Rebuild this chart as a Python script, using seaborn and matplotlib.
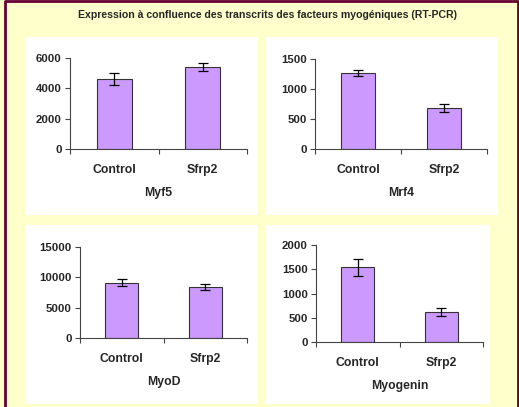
import matplotlib
matplotlib.use("Agg")
import matplotlib.pyplot as plt
from matplotlib.patches import Rectangle
from matplotlib.lines import Line2D
import seaborn as sns
import pandas as pd

sns.set_theme(style="white")
plt.rcParams['font.family'] = ['Liberation Sans', 'DejaVu Sans']
plt.rcParams['font.weight'] = 'bold'

title = "Expression à confluence des transcrits des facteurs myogéniques (RT-PCR)"
categories = ["Control", "Sfrp2"]
genes = ["Myf5", "Mrf4", "MyoD", "Myogenin"]
myf5 = [4600, 5430]
myf5_err = [390, 265]
mrf4 = [1270, 680]
mrf4_err = [48, 66]
myod = [9130, 8470]
myod_err = [630, 500]
myogenin = [1540, 620]
myogenin_err = [170, 80]
ymax = [6000, 1500, 15000, 2000]
ystep = [2000, 500, 5000, 500]

values = [myf5, mrf4, myod, myogenin]
errors = [myf5_err, mrf4_err, myod_err, myogenin_err]

W, H = 519, 407
fig = plt.figure(figsize=(W / 100, H / 100), dpi=100)
fig.patch.set_facecolor("#FFFFCC")

def px_rect(x0, y0, x1, y1):
    return [x0 / W, 1 - y1 / H, (x1 - x0) / W, (y1 - y0) / H]

# outer border: left, top, right only
fig.add_artist(Line2D([5 / W, 5 / W, 517.5 / W, 517.5 / W], [0, 1 - 0.8 / H, 1 - 0.8 / H, 0],
                      transform=fig.transFigure, color="#660033", linewidth=2.0, zorder=0))

panels = [(25, 37, 258, 215), (266, 37, 498, 215), (25, 225, 258, 404), (266, 225, 490, 404)]
for p in panels:
    x0, y0, w, h = px_rect(*p)
    fig.add_artist(Rectangle((x0, y0), w, h, transform=fig.transFigure,
                             facecolor="white", edgecolor="none", zorder=0))

axes_px = [(70, 58, 247, 149), (315, 59, 487, 149), (80, 247, 247, 338), (316, 245, 483, 342)]

fig.text(268 / W, 1 - 15 / H, title, ha="center", va="center", fontsize=7.6, fontweight="bold")

for i in range(4):
    ax = fig.add_axes(px_rect(*axes_px[i]))
    ax.set_facecolor("none")
    df = pd.DataFrame({"cat": categories, "val": values[i]})
    sns.barplot(data=df, x="cat", y="val", ax=ax, color="#CC99FF", saturation=1,
                width=0.4, edgecolor="#333333", linewidth=0.8, errorbar=None)
    ax.errorbar([0, 1], values[i], yerr=errors[i], fmt="none", ecolor="black",
                elinewidth=0.9, capsize=3.5, capthick=0.9)
    ax.set_xlim(-0.5, 1.5)
    ax.set_ylim(0, ymax[i])
    ax.set_yticks(list(range(0, ymax[i] + 1, ystep[i])))
    ax.set_yticklabels([str(v) for v in range(0, ymax[i] + 1, ystep[i])], fontsize=8.2, fontweight="bold")
    ax.set_xticks([0, 1])
    ax.set_xticklabels(categories, fontsize=8.8, fontweight="bold")
    ax.set_xticks([-0.5, 0.5, 1.5], minor=True)
    ax.tick_params(axis="x", which="major", length=0, pad=11)
    ax.tick_params(axis="x", which="minor", length=3.5, width=0.8, color="#444444", direction="out", bottom=True)
    ax.tick_params(axis="y", which="major", length=3.5, width=0.8, color="#444444", direction="out", left=True, pad=2.5)
    for s in ["top", "right"]:
        ax.spines[s].set_visible(False)
    for s in ["left", "bottom"]:
        ax.spines[s].set_color("#444444")
        ax.spines[s].set_linewidth(0.8)
    ax.set_ylabel("")
    ax.set_xlabel(genes[i], fontsize=8.8, fontweight="bold")
    ah = axes_px[i][3] - axes_px[i][1]
    ax.xaxis.set_label_coords(0.5, -38 / ah)
    ax.xaxis.label.set_va("top")

fig.savefig("out.png", dpi=100, facecolor=fig.get_facecolor())
